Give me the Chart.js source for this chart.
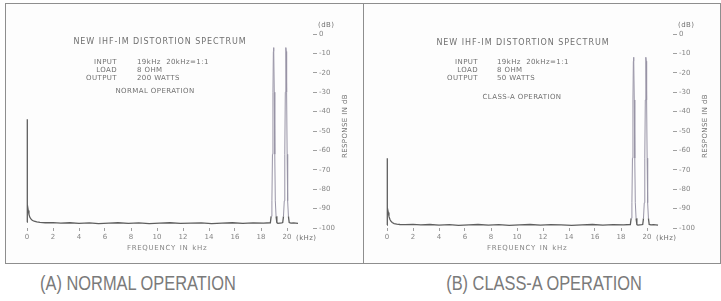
<!DOCTYPE html>
<html>
<head>
<meta charset="utf-8">
<title>New IHF-IM distortion spectrum</title>
<script src="https://cdn.jsdelivr.net/npm/chart.js@4.4.1/dist/chart.umd.min.js"></script>
<style>
body{margin:0;background:#fff;width:721px;height:301px;overflow:hidden;position:relative;font-family:"DejaVu Sans",sans-serif;color:#707070}
.panel{position:absolute;top:3px;height:261px;border:1.5px solid #8e8e8e;box-sizing:border-box;background:#fdfdfd}
canvas{position:absolute;top:0}
.t{position:absolute;white-space:nowrap;font-size:7px;line-height:8px;letter-spacing:0.4px}
.ttl{font-size:8px;letter-spacing:0.95px;text-align:center;width:220px}
.c{text-align:center;width:160px}
.r{text-align:right;width:60px}
.rot{transform:rotate(-90deg);transform-origin:center;width:90px;text-align:center}
.cap{position:absolute;top:272px;font-family:"Liberation Sans",sans-serif;font-size:20px;color:#7a7a7a;white-space:nowrap;text-align:center;width:300px;transform:scaleX(0.82)}
</style>
</head>
<body>

<div class="panel" style="left:5px;width:359px"></div>
<div class="panel" style="left:363px;width:358px"></div>

<canvas id="chartA" width="360" height="260" style="left:0"></canvas>
<canvas id="chartB" width="360" height="260" style="left:360px"></canvas>

<!-- panel A notes -->
<div class="t ttl" style="left:50px;top:38px">NEW IHF-IM DISTORTION SPECTRUM</div>
<div class="t r" style="left:57px;top:58px">INPUT<br>LOAD<br>OUTPUT</div>
<div class="t" style="left:137px;top:58px">19kHz&nbsp; 20kHz=1:1<br>8 OHM<br>200 WATTS</div>
<div class="t c" style="left:75px;top:87px">NORMAL OPERATION</div>
<div class="t" style="left:318px;top:21px">(dB)</div>
<div class="t" style="left:296px;top:234px">(kHz)</div>
<div class="t rot" style="left:300px;top:122px">RESPONSE IN dB</div>

<!-- panel B notes -->
<div class="t ttl" style="left:413px;top:39px">NEW IHF-IM DISTORTION SPECTRUM</div>
<div class="t r" style="left:418px;top:58px">INPUT<br>LOAD<br>OUTPUT</div>
<div class="t" style="left:497px;top:58px">19kHz&nbsp; 20kHz=1:1<br>8 OHM<br>50 WATTS</div>
<div class="t c" style="left:442px;top:93px">CLASS-A OPERATION</div>
<div class="t" style="left:678px;top:21px">(dB)</div>
<div class="t" style="left:656px;top:234px">(kHz)</div>
<div class="t rot" style="left:660px;top:122px">RESPONSE IN dB</div>

<div class="cap" style="left:-12px">(A) NORMAL OPERATION</div>
<div class="cap" style="left:394px">(B) CLASS-A OPERATION</div>

<script>
// axis ticks
var xTicks = [0, 2, 4, 6, 8, 10, 12, 14, 16, 18, 20];
var yTicks = [-100, -90, -80, -70, -60, -50, -40, -30, -20, -10, 0];

// (A) normal operation, 200 W
var freqA = [0, 0, 0.02, 0.05, 0.1, 0.15, 0.22, 0.3, 0.4, 0.55, 0.75, 1.0, 1.4, 2.0, 2.6, 3.3, 4.0, 4.8, 5.5, 6.3, 7.0, 7.8, 8.6, 9.4, 10.2, 11.0, 11.8, 12.6, 13.4, 14.2, 15.0, 15.8, 16.6, 17.4, 18.2, 18.72,
  18.78, 18.84, 18.88, 18.92, 18.95, 18.97, 18.99, 19.02, 19.06, 19.1, 19.16, 19.22, 19.3, 19.45, 19.6, 19.67,
  19.73, 19.79, 19.83, 19.87, 19.9, 19.92, 19.94, 19.97, 20.01, 20.05, 20.11, 20.17, 20.3, 20.5, 20.85];
var dbA = [-97, -44, -83, -88, -91, -93, -94.5, -95.3, -96, -96.5, -96.9, -97.1, -97.3, -97.2, -97.5, -97.3, -97.6, -97.4, -97.7, -97.5, -97.3, -97.6, -97.4, -97.7, -97.5, -97.3, -97.6, -97.5, -97.4, -97.7, -97.5, -97.3, -97.6, -97.4, -97.5, -97.3,
  -94, -86, -62, -30, -9, -7, -9, -30, -62, -86, -94, -97.2, -97.6, -97.5, -97.4, -97.2,
  -94, -86, -62, -30, -9, -7, -9, -30, -62, -86, -94, -97.2, -97.5, -97.4, -97.6];

// (B) class-A operation, 50 W
var freqB = [0, 0, 0.02, 0.05, 0.1, 0.15, 0.22, 0.3, 0.4, 0.55, 0.75, 1.0, 1.4, 2.0, 2.6, 3.3, 4.0, 4.8, 5.5, 6.3, 7.0, 7.8, 8.6, 9.4, 10.2, 11.0, 11.8, 12.6, 13.4, 14.2, 15.0, 15.8, 16.6, 17.4, 18.2, 18.72,
  18.78, 18.84, 18.88, 18.92, 18.95, 18.97, 18.99, 19.02, 19.06, 19.1, 19.16, 19.22, 19.3, 19.45, 19.6, 19.67,
  19.73, 19.79, 19.83, 19.87, 19.9, 19.92, 19.94, 19.97, 20.01, 20.05, 20.11, 20.17, 20.3, 20.5, 20.85];
var dbB = [-98.5, -64, -85, -89.5, -92, -94, -95.5, -96.5, -97.2, -97.7, -98, -98.2, -98.3, -98.1, -98.4, -98.2, -98.5, -98.3, -98.6, -98.4, -98.2, -98.5, -98.3, -98.6, -98.4, -98.2, -98.5, -98.3, -98.4, -98.6, -98.4, -98.2, -98.5, -98.3, -98.4, -98.2,
  -95, -87, -64, -34, -14, -12, -14, -34, -64, -87, -95, -98.2, -98.5, -98.4, -98.3, -98.2,
  -95, -87, -64, -34, -14, -12, -14, -34, -64, -87, -95, -98.2, -98.4, -98.3, -98.5];

function spectrum(id, freq, db){
  var pts = freq.map(function(f, i){ return {x: f, y: db[i]}; });
  var ax = {font: {size: 7, family: 'DejaVu Sans'}, color: '#858585'};
  return new Chart(document.getElementById(id), {
    type: 'line',
    data: {datasets: [{
      data: pts,
      borderColor: '#5e5e5e',
      borderWidth: 1.3,
      pointRadius: 0,
      tension: 0,
      segment: {
        // the carrier peaks print lighter than the noise floor
        borderColor: function(ctx){
          return (ctx.p0.parsed.x > 18 && (ctx.p0.parsed.y > -92 || ctx.p1.parsed.y > -92)) ? '#9894a6' : undefined;
        },
        borderWidth: function(ctx){
          return (ctx.p0.parsed.x > 18 && (ctx.p0.parsed.y > -92 || ctx.p1.parsed.y > -92)) ? 1 : undefined;
        }
      }
    }]},
    options: {
      responsive: false,
      animation: false,
      layout: {padding: {left: 20.5, top: 34, right: 0, bottom: 8}},
      plugins: {legend: {display: false}, tooltip: {enabled: false}},
      scales: {
        x: {
          type: 'linear', position: 'bottom', min: -0.5, max: 22,
          afterBuildTicks: function(s){ s.ticks = xTicks.map(function(v){ return {value: v}; }); },
          afterFit: function(s){ s.height = 24; },
          grid: {drawOnChartArea: false, tickLength: 3, color: '#a0a0a0'},
          border: {display: false},
          ticks: {font: ax.font, color: ax.color, padding: 2, maxRotation: 0, autoSkip: false},
          title: {display: true, text: 'F\u200aR\u200aE\u200aQ\u200aU\u200aE\u200aN\u200aC\u200aY  I\u200aN  k\u200aH\u200az', font: ax.font, color: ax.color, padding: 0}
        },
        y: {
          type: 'linear', position: 'right', min: -100, max: 0,
          afterBuildTicks: function(s){ s.ticks = yTicks.map(function(v){ return {value: v}; }); },
          afterFit: function(s){ s.width = 47; },
          grid: {drawOnChartArea: false, tickLength: 4, color: '#a0a0a0'},
          border: {display: false},
          ticks: {font: ax.font, color: ax.color, padding: 2, autoSkip: false,
            callback: function(v){ return String(v); }}
        }
      }
    }
  });
}

spectrum('chartA', freqA, dbA);
spectrum('chartB', freqB, dbB);
</script>
</body>
</html>
